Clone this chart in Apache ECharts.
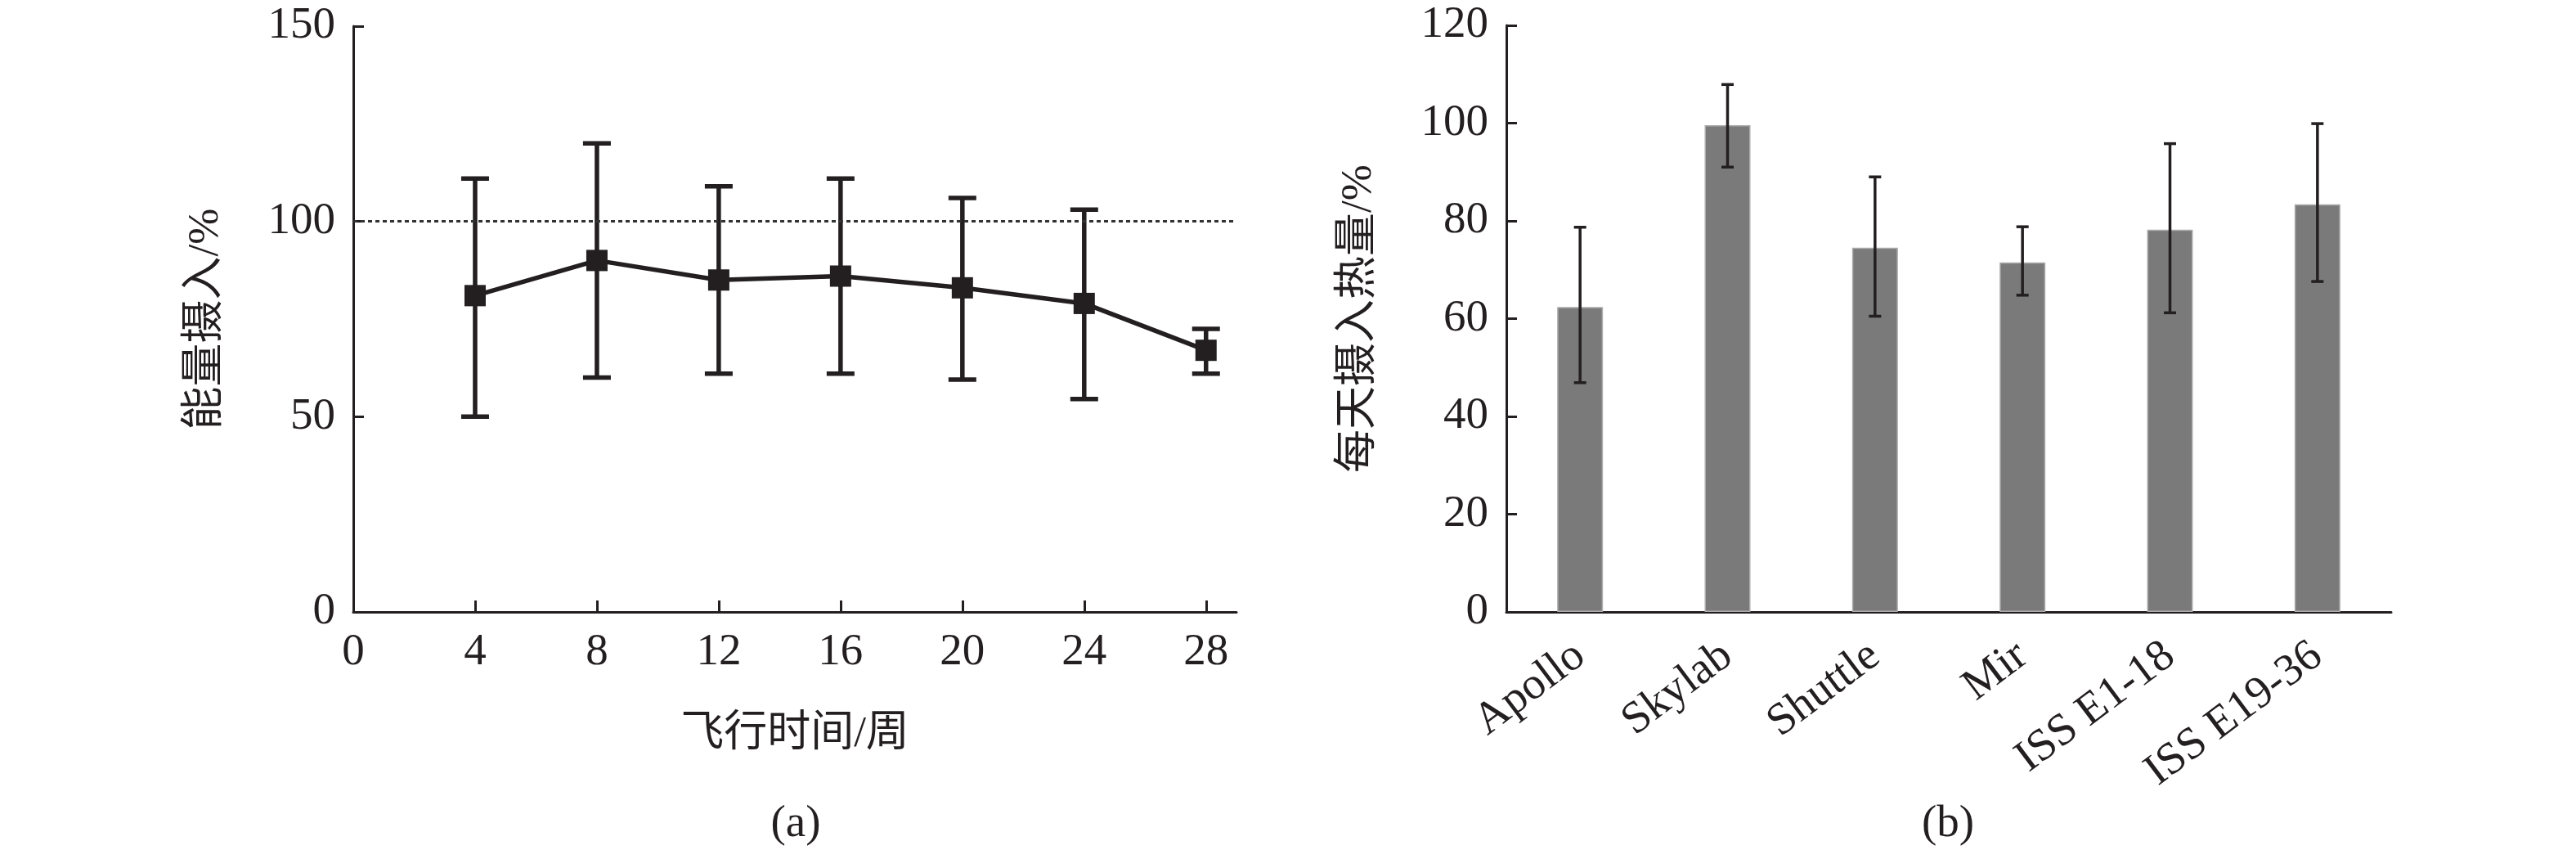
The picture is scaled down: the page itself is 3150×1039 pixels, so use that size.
<!DOCTYPE html>
<html>
<head>
<meta charset="utf-8">
<script src="https://cdn.jsdelivr.net/npm/echarts@6/dist/echarts.min.js"></script>
<style>
html,body{margin:0;padding:0;background:#fff;}
#chart{width:3150px;height:1039px;}
</style>
</head>
<body>
<div id="chart"></div>
<script>
// ---- Data (a): energy intake vs flight time ----
const weeks = [4, 8, 12, 16, 20, 24, 28];
const intakeMean = [81, 90, 85, 86, 83, 79, 67];
const intakeUpper = [111, 120, 109, 111, 106, 103, 72.5];
const intakeLower = [50, 60, 61, 61, 59.5, 54.5, 61];
const referenceLine = 100;
const xTickValues = [4, 8, 12, 16, 20, 24, 28];
const xLabelValues = [0, 4, 8, 12, 16, 20, 24, 28];

// ---- Data (b): daily caloric intake by program ----
const programs = ['Apollo', 'Skylab', 'Shuttle', 'Mir', 'ISS E1-18', 'ISS E19-36'];
const dailyMean = [62.4, 99.6, 74.5, 71.5, 78.2, 83.4];
const dailyUpper = [78.7, 107.9, 89, 78.8, 95.8, 99.9];
const dailyLower = [46.9, 91, 60.5, 64.8, 61.2, 67.6];

const INK = '#231f20';
const SERIF = '"Liberation Serif", "Times New Roman", "Noto Sans CJK SC", serif';
const FS = 55;

function errRender(capHalf, lw) {
  return function (params, api) {
    const x = api.value(0), lo = api.value(1), hi = api.value(2);
    const pHi = api.coord([x, hi]);
    const pLo = api.coord([x, lo]);
    const st = { stroke: INK, lineWidth: lw };
    return {
      type: 'group',
      children: [
        { type: 'line', shape: { x1: pHi[0], y1: pHi[1], x2: pLo[0], y2: pLo[1] }, style: st },
        { type: 'line', shape: { x1: pHi[0] - capHalf, y1: pHi[1], x2: pHi[0] + capHalf, y2: pHi[1] }, style: st },
        { type: 'line', shape: { x1: pLo[0] - capHalf, y1: pLo[1], x2: pLo[0] + capHalf, y2: pLo[1] }, style: st }
      ]
    };
  };
}

const axisLine = { show: true, lineStyle: { color: INK, width: 3 } };
const labelStyle = { color: INK, fontFamily: SERIF, fontSize: FS };
const nameStyle = { color: INK, fontFamily: SERIF, fontSize: 53 };

const chart = echarts.init(document.getElementById('chart'), null, { renderer: 'canvas' });

const option = {
  backgroundColor: '#fff',
  animation: false,
  grid: [
    { left: 432, top: 32, width: 1080, height: 716 },
    { left: 1842, top: 31, width: 1082, height: 717 }
  ],
  xAxis: [
    {
      gridIndex: 0, type: 'value', min: 0, max: 29,
      axisLine: axisLine,
      axisTick: { show: true, inside: true, length: 14, lineStyle: { color: INK, width: 3 }, customValues: xTickValues },
      axisLabel: Object.assign({ margin: 22, customValues: xLabelValues }, labelStyle),
      splitLine: { show: false },
      name: '飞行时间/周', nameLocation: 'middle', nameGap: 124, nameTextStyle: nameStyle
    },
    {
      gridIndex: 1, type: 'category', data: programs, boundaryGap: true,
      axisLine: axisLine,
      axisTick: { show: true, inside: true, alignWithLabel: true, length: 14, lineStyle: { color: INK, width: 3 } },
      axisLabel: Object.assign({ margin: 48, rotate: 37, interval: 0 }, labelStyle),
      splitLine: { show: false }
    }
  ],
  yAxis: [
    {
      gridIndex: 0, type: 'value', min: 0, max: 150, interval: 50,
      axisLine: axisLine,
      axisTick: { show: true, inside: true, length: 13, lineStyle: { color: INK, width: 3 } },
      axisLabel: Object.assign({ margin: 22 }, labelStyle),
      splitLine: { show: false },
      name: '能量摄入/%', nameLocation: 'middle', nameRotate: 90, nameGap: 153, nameTextStyle: nameStyle
    },
    {
      gridIndex: 1, type: 'value', min: 0, max: 120, interval: 20,
      axisLine: axisLine,
      axisTick: { show: true, inside: true, length: 13, lineStyle: { color: INK, width: 3 } },
      axisLabel: Object.assign({ margin: 22 }, labelStyle),
      splitLine: { show: false },
      name: '每天摄入热量/%', nameLocation: 'middle', nameRotate: 90, nameGap: 153, nameTextStyle: nameStyle
    }
  ],
  series: [
    {
      type: 'custom', xAxisIndex: 0, yAxisIndex: 0, z: 2,
      renderItem: errRender(17, 5.5),
      encode: { x: 0, y: [1, 2] },
      data: weeks.map((w, i) => [w, intakeLower[i], intakeUpper[i]])
    },
    {
      type: 'line', xAxisIndex: 0, yAxisIndex: 0, z: 3,
      data: weeks.map((w, i) => [w, intakeMean[i]]),
      symbol: 'rect', symbolSize: 26,
      lineStyle: { color: INK, width: 5.5 },
      itemStyle: { color: INK },
      markLine: {
        silent: true, symbol: 'none', label: { show: false },
        lineStyle: { color: '#333', width: 3, type: [5, 4] },
        data: [{ yAxis: referenceLine }]
      }
    },
    {
      type: 'bar', xAxisIndex: 1, yAxisIndex: 1, z: 2,
      data: dailyMean, barWidth: 56,
      itemStyle: { color: '#7a7a7a', borderColor: '#ababab', borderWidth: 1.5 }
    },
    {
      type: 'custom', xAxisIndex: 1, yAxisIndex: 1, z: 3,
      renderItem: errRender(7.5, 3.5),
      encode: { x: 0, y: [1, 2] },
      data: programs.map((p, i) => [i, dailyLower[i], dailyUpper[i]])
    }
  ],
  graphic: [
    { type: 'text', x: 973, y: 1008, style: { text: '(a)', fill: INK, font: '55px ' + SERIF, textAlign: 'center', textVerticalAlign: 'middle' } },
    { type: 'text', x: 2382, y: 1008, style: { text: '(b)', fill: INK, font: '55px ' + SERIF, textAlign: 'center', textVerticalAlign: 'middle' } }
  ]
};

chart.setOption(option);
</script>
</body>
</html>
